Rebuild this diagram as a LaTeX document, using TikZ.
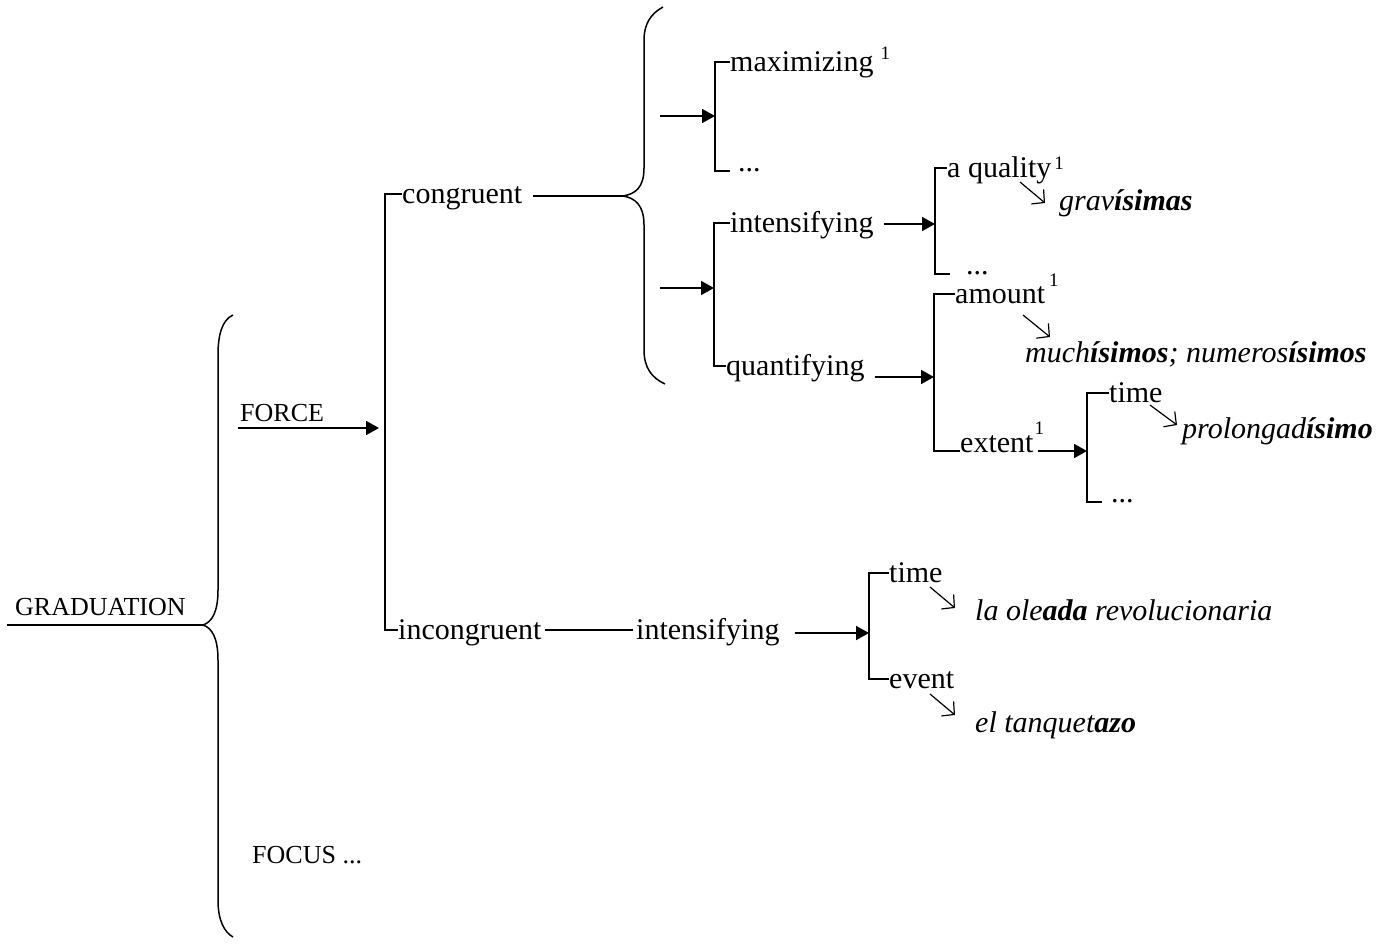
\documentclass[tikz,border=0pt]{standalone}
\usepackage{fontspec}
\setmainfont{Liberation Serif}
\usetikzlibrary{arrows.meta}
\newcommand\mysup[2]{\raisebox{#1pt}{\fontsize{#2}{#2}\selectfont 1}}
\begin{document}
\begin{tikzpicture}[x=1pt,y=-1pt,
  lbl/.style={anchor=base west, inner sep=0pt, font=\fontsize{30}{36}\selectfont, text height=24pt, text depth=6pt},
  dotsn/.style={anchor=base west, inner sep=0pt, font=\fontsize{30}{36}\selectfont, text height=0pt, text depth=0pt},
  capn/.style={anchor=base west, inner sep=0pt, font=\fontsize{26}{30}\selectfont},
  exn/.style={anchor=base west, inner sep=0pt, font=\fontsize{30}{36}\selectfont\itshape},
  ln/.style={line width=1.8pt},
  bracen/.style={line width=1.5pt},
  arr/.style={line width=1.8pt, -{Triangle[length=13pt,width=14pt]}},
  thinarr/.style={line width=1.2pt, -{Straight Barb[length=9pt,width=19pt]}},
]
\useasboundingbox (0,0) rectangle (1386,945);

% braces
\draw[bracen] (233,315) .. controls (222,320) and (218,335) .. (218,355) -- (218,590)
  .. controls (218,612) and (212,622) .. (203,625)
  .. controls (212,628) and (218,638) .. (218,660) -- (218,900)
  .. controls (218,920) and (224,932) .. (233,937);
\draw[bracen] (663,7) .. controls (650,14) and (644,25) .. (644,40) -- (644,168)
  .. controls (644,188) and (635,194) .. (623,196)
  .. controls (635,198) and (644,205) .. (644,225) -- (644,350)
  .. controls (644,368) and (652,378) .. (665,384);

% left part
\node[capn] (grad) at (15,615) {GRADUATION};
\node[capn] (force) at (240,421) {FORCE};
\node[capn] (focus) at (252,863) {FOCUS ...};
\coordinate (g0) at (7,625);
\coordinate (gtip) at (203,625);
\draw[bracen] (g0) -- (gtip);
\coordinate (f0) at (238,428);
\coordinate (jF) at (385,428);
\draw[arr, shorten >=6pt] (f0) -- (jF);

% congruent / incongruent
\node[lbl] (cong) at (402,203) {congruent};
\node[lbl] (incong) at (398,639) {incongruent};
\draw[ln] (cong.west) -| (jF) |- (incong.west);
\coordinate (ctip) at (623,196);
\draw[bracen] ([xshift=11pt]cong.east |- ctip) -- (ctip);

% maximizing bracket
\node[lbl] (max) at (730,71) {maximizing\hspace{7pt}\mysup{12}{19}};
\node[dotsn, inner xsep=8pt] (d1) at (730,171) {...};
\coordinate (j1) at (715,116);
\coordinate (a1) at (660,116);
\draw[ln] (max.west) -| (j1) |- (d1.west);
\draw[arr] (a1) -- (j1);

% intensifying / quantifying bracket
\node[lbl] (intA) at (730,232) {intensifying};
\node[lbl] (quant) at (726,375) {quantifying};
\coordinate (j2) at (714,288);
\coordinate (a2) at (660,288);
\draw[ln] (intA.west) -| (j2) |- (quant.west);
\draw[arr] (a2) -- (j2);

% a quality bracket
\node[lbl] (aq) at (947,177) {a quality\hspace{3pt}\mysup{8}{19}};
\node[dotsn, inner xsep=16pt] (d2) at (950,274) {...};
\coordinate (j3) at (935,224);
\draw[ln] (aq.west) -| (j3) |- (d2.west);
\draw[arr] ([xshift=10pt]intA.east |- j3) -- (j3);
\node[exn] (grav) at (1059,210) {grav\textbf{ísimas}};
\draw[thinarr] ([xshift=73pt,yshift=-5pt]aq.base west) -- ([xshift=-14pt,yshift=7pt]grav.base west);

% amount / extent bracket
\node[lbl] (amount) at (955,303) {amount\hspace{4pt}\mysup{17}{19}};
\node[lbl] (ext) at (960,452) {extent\hspace{1pt}\mysup{18}{19}};
\coordinate (j4) at (934,377);
\draw[ln] (amount.west) -| (j4) |- ([yshift=-8pt]ext.west);
\draw[arr] ([xshift=10pt]quant.east |- j4) -- (j4);
\node[exn] (mucho) at (1025,362) {much\textbf{ísimos}; numeros\textbf{ísimos}};
\draw[thinarr] ([xshift=68pt,yshift=-12pt]amount.base west) -- ([xshift=25pt,yshift=25pt]mucho.base west);

% time bracket
\node[lbl] (timeA) at (1109,402) {time};
\node[dotsn, inner xsep=9pt] (d3) at (1102,502) {...};
\coordinate (j5) at (1087,451);
\draw[ln] (timeA.west) -| (j5) |- (d3.west);
\draw[arr] ([xshift=-6pt]ext.east |- j5) -- (j5);
\node[exn] (prolong) at (1182,438) {prolongad\textbf{ísimo}};
\draw[thinarr] ([xshift=41pt,yshift=-3pt]timeA.base west) -- ([xshift=-5pt,yshift=13pt]prolong.base west);

% incongruent branch
\node[lbl] (intB) at (636,639) {intensifying};
\draw[ln] ([xshift=3pt]incong.east) -- ([xshift=-3pt]intB.west);
\node[lbl] (timeB) at (889,582) {time};
\node[lbl] (event) at (889,688) {event};
\coordinate (j7) at (869,633);
\draw[ln] (timeB.west) -| (j7) |- (event.west);
\draw[arr] ([xshift=15pt]intB.east |- j7) -- (j7);
\node[exn] (oleada) at (975,620) {la ole\textbf{ada} revolucionaria};
\node[exn] (tanq) at (975,732) {el tanquet\textbf{azo}};
\draw[thinarr] ([xshift=41pt,yshift=-5pt]timeB.base west) -- ([xshift=-20pt,yshift=12pt]oleada.base west);
\draw[thinarr] ([xshift=41pt,yshift=-6pt]event.base west) -- ([xshift=-20pt,yshift=17pt]tanq.base west);
\end{tikzpicture}
\end{document}
